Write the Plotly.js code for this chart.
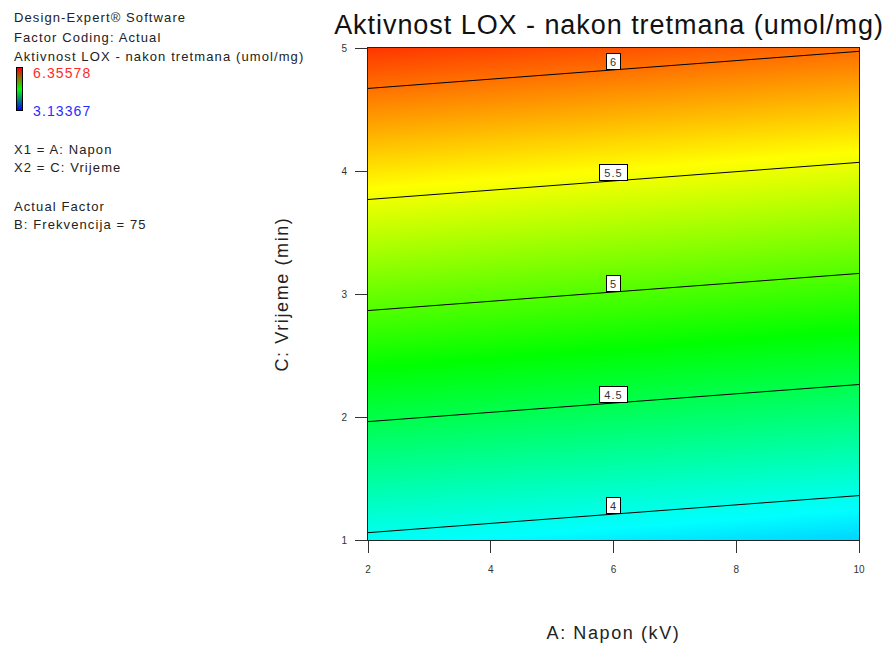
<!DOCTYPE html>
<html>
<head>
<meta charset="utf-8">
<script src="https://cdn.plot.ly/plotly-3.0.1.min.js"></script>
<style>
  html, body { margin: 0; padding: 0; background: #fff; }
  #chart { width: 891px; height: 646px; }
  .gtitle { letter-spacing: 0.95px; }
  .xtitle, .ytitle { letter-spacing: 1.6px; }
  .annotation-text { letter-spacing: 1.1px; }
</style>
</head>
<body>
<div id="chart"></div>
<script>
// ---- data ----
const napon = [2, 10];                 // A: Napon (kV), grid columns
const vrijeme = [1, 5];                // C: Vrijeme (min), grid rows
const aktivnost = [                    // Aktivnost LOX (umol/mg), rows follow vrijeme
  [3.967, 3.800],
  [6.182, 6.015]
];
const contourLevels = [4, 4.5, 5, 5.5, 6];
const labelNapon = 6;                  // where the contour labels sit
const scaleMax = 6.35578;
const scaleMin = 3.13367;
const xTicks = [2, 4, 6, 8, 10];
const yTicks = [1, 2, 3, 4, 5];

const infoLines = [
  'Design-Expert® Software',
  'Factor Coding: Actual',
  'Aktivnost LOX - nakon tretmana (umol/mg)',
  '', '', '',
  'X1 = A: Napon',
  'X2 = C: Vrijeme',
  '',
  'Actual Factor',
  'B: Frekvencija = 75'
];
const chartTitle = 'Aktivnost LOX - nakon tretmana (umol/mg)';
const xTitle = 'A: Napon (kV)';
const yTitle = 'C: Vrijeme (min)';

// ---- layout helpers ----
const W = 891, H = 646;
const px = v => v / W;
const py = v => 1 - v / H;

const mainScale = [
  [0, 'rgb(0,0,255)'],
  [0.25, 'rgb(0,255,255)'],
  [0.5, 'rgb(0,255,0)'],
  [0.75, 'rgb(255,255,0)'],
  [1, 'rgb(255,0,0)']
];

// y of a contour level at x = labelNapon (bilinear on the read grid)
function levelY(level) {
  const t = (labelNapon - napon[0]) / (napon[1] - napon[0]);
  const zb = aktivnost[0][0] + t * (aktivnost[0][1] - aktivnost[0][0]);
  const zt = aktivnost[1][0] + t * (aktivnost[1][1] - aktivnost[1][0]);
  return vrijeme[0] + (level - zb) / (zt - zb) * (vrijeme[1] - vrijeme[0]);
}

const traces = [
  {
    type: 'contour',
    x: napon, y: vrijeme, z: aktivnost,
    zmin: scaleMin, zmax: scaleMax, zauto: false,
    colorscale: mainScale,
    contours: { coloring: 'heatmap', start: contourLevels[0], end: contourLevels[contourLevels.length - 1], size: contourLevels[1] - contourLevels[0], showlabels: false },
    line: { color: '#000', width: 1, smoothing: 0 },
    showscale: false,
    hoverinfo: 'x+y+z'
  },
  {
    type: 'heatmap',
    xaxis: 'x2', yaxis: 'y2',
    x: [0, 1], y: [scaleMin, scaleMax],
    z: [[scaleMin, scaleMin], [scaleMax, scaleMax]],
    zmin: scaleMin, zmax: scaleMax,
    colorscale: [[0, 'rgb(0,0,255)'], [0.5, 'rgb(0,255,0)'], [1, 'rgb(255,0,0)']],
    zsmooth: 'best', showscale: false, hoverinfo: 'skip'
  }
];

const annotations = [];
const lineCenters = [18, 37, 56, 73, 92, 111, 149, 167, 186, 206, 224];
infoLines.forEach((t, i) => {
  if (!t) return;
  annotations.push({
    xref: 'paper', yref: 'paper', x: px(12), y: py(lineCenters[i]),
    xanchor: 'left', yanchor: 'middle', showarrow: false, text: t,
    font: { family: 'Liberation Sans, Arial, sans-serif', size: 13, color: '#222' }
  });
});
annotations.push({
  xref: 'paper', yref: 'paper', x: px(31), y: py(73), xanchor: 'left', yanchor: 'middle',
  showarrow: false, text: String(scaleMax),
  font: { family: 'Liberation Sans, Arial, sans-serif', size: 14, color: '#ff2a2a' }
});
annotations.push({
  xref: 'paper', yref: 'paper', x: px(31), y: py(111), xanchor: 'left', yanchor: 'middle',
  showarrow: false, text: String(scaleMin),
  font: { family: 'Liberation Sans, Arial, sans-serif', size: 14, color: '#2a2aff' }
});
contourLevels.forEach(lv => {
  const txt = String(lv);
  annotations.push({
    xref: 'x', yref: 'y', x: labelNapon, y: levelY(lv),
    xanchor: 'center', yanchor: 'bottom', showarrow: false, text: txt,
    width: 6 + 7 * txt.length, height: 15, borderpad: 0,
    bgcolor: '#fff', bordercolor: '#000', borderwidth: 1,
    font: { family: 'Liberation Sans, Arial, sans-serif', size: 11, color: '#333' }
  });
});

const axisFont = { family: 'Liberation Sans, Arial, sans-serif', size: 10, color: '#333' };
const layout = {
  width: W, height: H,
  margin: { l: 0, r: 0, t: 0, b: 0 },
  paper_bgcolor: '#fff', plot_bgcolor: '#fff',
  showlegend: false,
  title: {
    text: chartTitle, xref: 'container', yref: 'container',
    x: px(609), y: py(25), xanchor: 'center', yanchor: 'middle',
    font: { family: 'Liberation Sans, Arial, sans-serif', size: 27, color: '#111' }
  },
  xaxis: {
    domain: [px(368), px(859)], anchor: 'y',
    range: [napon[0], napon[1]], tickvals: xTicks, ticktext: xTicks.map(String),
    ticks: 'outside', ticklen: 12, tickwidth: 1, tickcolor: '#333',
    ticklabelstandoff: 8,
    showline: true, mirror: true, linecolor: '#222', linewidth: 1,
    showgrid: false, zeroline: false, tickfont: axisFont,
    title: { text: xTitle, standoff: 52, font: { family: 'Liberation Sans, Arial, sans-serif', size: 18, color: '#222' } }
  },
  yaxis: {
    domain: [py(540), py(48)], anchor: 'x',
    range: [vrijeme[0], vrijeme[1]], tickvals: yTicks, ticktext: yTicks.map(String),
    ticks: 'outside', ticklen: 12, tickwidth: 1, tickcolor: '#333',
    ticklabelstandoff: 6,
    showline: true, mirror: true, linecolor: '#222', linewidth: 1,
    showgrid: false, zeroline: false, tickfont: axisFont,
    title: { text: yTitle, standoff: 48, font: { family: 'Liberation Sans, Arial, sans-serif', size: 18, color: '#222' } }
  },
  xaxis2: {
    domain: [px(17), px(22)], anchor: 'y2', range: [0, 1],
    showticklabels: false, ticks: '', showgrid: false, zeroline: false,
    showline: true, mirror: true, linecolor: '#000', linewidth: 1, fixedrange: true
  },
  yaxis2: {
    domain: [py(110), py(68)], anchor: 'x2', range: [scaleMin, scaleMax],
    showticklabels: false, ticks: '', showgrid: false, zeroline: false,
    showline: true, mirror: true, linecolor: '#000', linewidth: 1, fixedrange: true
  },
  annotations: annotations
};

Plotly.newPlot('chart', traces, layout, { displayModeBar: false, staticPlot: false });
</script>
</body>
</html>
